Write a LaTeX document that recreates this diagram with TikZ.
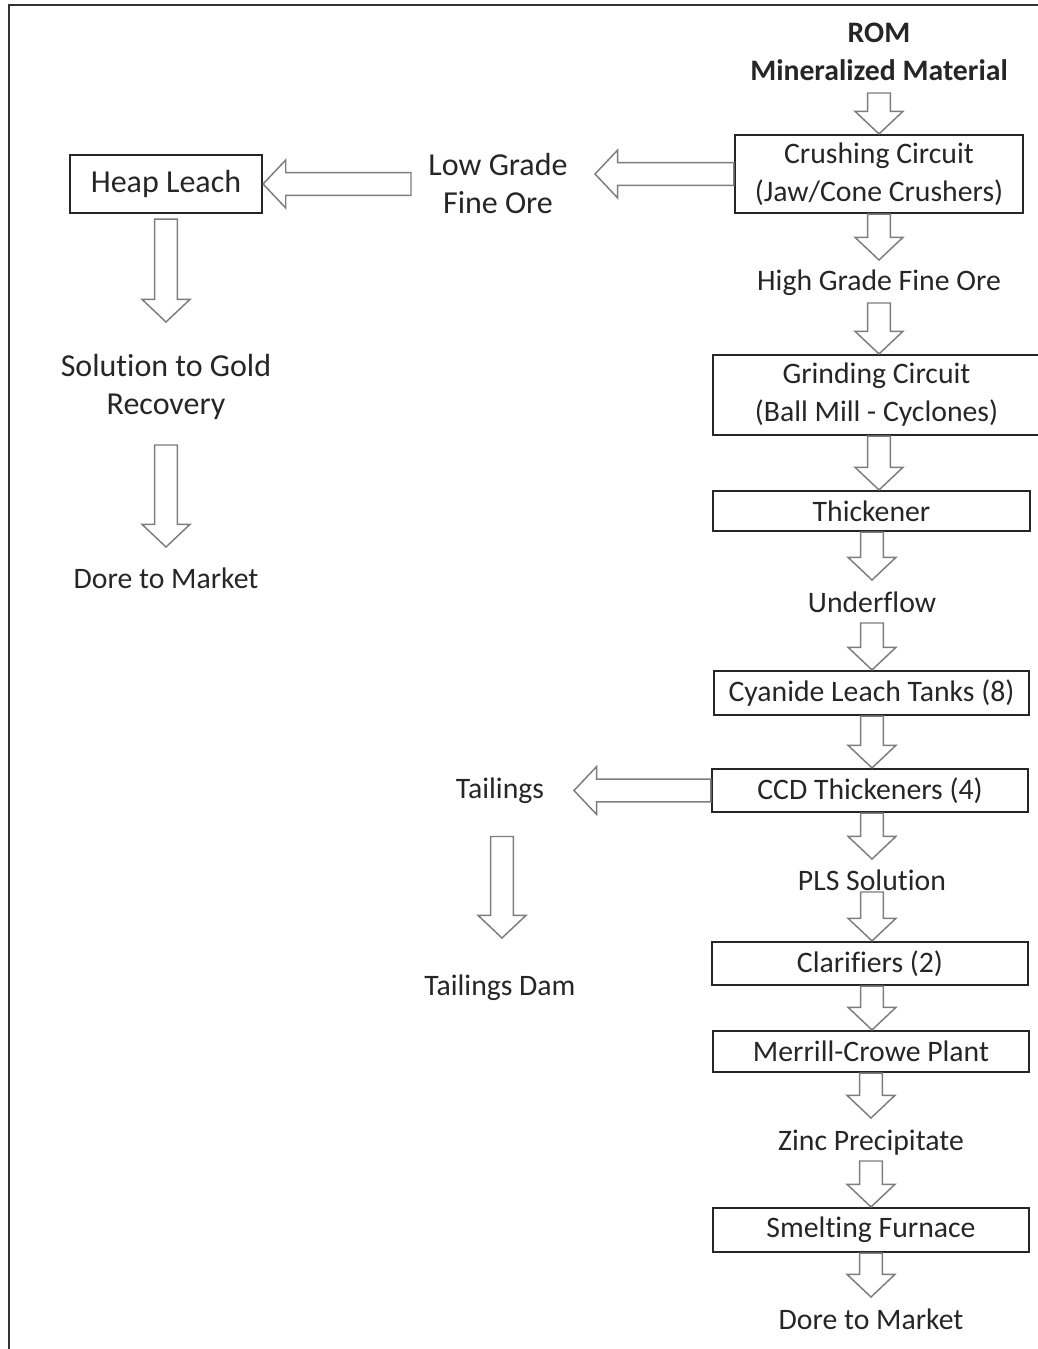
\documentclass[tikz,border=0pt]{standalone}
\usepackage{fontspec}
\setmainfont{Carlito}[Ligatures=NoCommon]
\usetikzlibrary{calc}

\definecolor{inkgray}{RGB}{38,38,38}
\definecolor{arrowgray}{RGB}{125,125,125}

\tikzset{every picture/.style={line width=0.75pt}}
\tikzset{
  flowtext/.style={text=inkgray, font=\fontsize{22.3pt}{28.5pt}\selectfont, align=center, inner sep=0pt},
  bigtext/.style={flowtext, font=\fontsize{24pt}{28.5pt}\selectfont},
  romtext/.style={flowtext, font=\fontsize{22.3pt}{28.5pt}\selectfont\bfseries},
  stagebox/.style={flowtext, draw=black!85, line width=1.6pt, rectangle},
  blockarrow/.style={draw=arrowgray, fill=white, line width=1.1pt, line join=miter},
}

% hollow block arrow from #1 to #2
\newcommand{\flowarrow}[2]{%
  \path (#1) coordinate (fa-s) (#2) coordinate (fa-t);
  \path ($(fa-t)!17pt!(fa-s)$) coordinate (fa-b);
  \draw[blockarrow] ($(fa-s)!8.6pt!90:(fa-t)$) -- ($(fa-b)!8.6pt!-90:(fa-s)$)
    -- ($(fa-b)!18pt!-90:(fa-s)$) -- (fa-t) -- ($(fa-b)!18pt!90:(fa-s)$)
    -- ($(fa-b)!8.6pt!90:(fa-s)$) -- ($(fa-s)!8.6pt!-90:(fa-t)$) -- cycle;
}

\begin{document}
\begin{tikzpicture}[x=0.75pt,y=0.75pt,yscale=-1,xscale=1]
\useasboundingbox (0,0) rectangle (1038,1349);

%Straight Lines (frame)
\draw [line width=1.5pt, black!80] (9,1349) -- (9,5) -- (1038,5) ;

% Text Node
\node [romtext] (rom) at (879,52) {ROM\\Mineralized Material};
%Shape: Rectangle
\node [stagebox, minimum width=216pt, minimum height=58.5pt] (crush) at (879,174) {Crushing Circuit\\(Jaw/Cone Crushers)};
% Text Node
\node [flowtext] (hgfo) at (879,283) {High Grade Fine Ore};
%Shape: Rectangle
\node [stagebox, minimum width=245.25pt, minimum height=60pt] (grind) at (876.5,395) {Grinding Circuit\\(Ball Mill - Cyclones)};
%Shape: Rectangle
\node [stagebox, minimum width=237.75pt, minimum height=30pt] (thick) at (871.5,511) {Thickener};
% Text Node
\node [flowtext] (under) at (872,602) {Underflow};
%Shape: Rectangle
\node [stagebox, minimum width=236.25pt, minimum height=33pt] (cyan) at (871.5,693) {Cyanide Leach Tanks (8)};
%Shape: Rectangle
\node [stagebox, minimum width=237pt, minimum height=32.25pt] (ccd) at (870,790.5) {CCD Thickeners (4)};
% Text Node
\node [flowtext] (pls) at (872,880) {PLS Solution};
%Shape: Rectangle
\node [stagebox, minimum width=237pt, minimum height=32.25pt] (clar) at (870,963.5) {Clarifiers (2)};
%Shape: Rectangle
\node [stagebox, minimum width=237pt, minimum height=30.75pt] (merr) at (871,1051.5) {Merrill-Crowe Plant};
% Text Node
\node [flowtext] (zinc) at (871,1143) {Zinc Precipitate};
%Shape: Rectangle
\node [stagebox, minimum width=237pt, minimum height=33pt] (smelt) at (871,1230) {Smelting Furnace};
% Text Node
\node [flowtext] (dore2) at (871,1319) {Dore to Market};

% Text Node
\node [bigtext] (lowgrade) at (498,183) {Low Grade\\Fine Ore};
%Shape: Rectangle
\node [stagebox, bigtext, minimum width=144pt, minimum height=43.5pt] (heap) at (166,184) {Heap Leach};
% Text Node
\node [bigtext] (sol) at (166,387) {Solution to Gold\\Recovery};
% Text Node
\node [flowtext] (dore1) at (166,578) {Dore to Market};
% Text Node
\node [flowtext] (tail) at (500,790.5) {Tailings};
% Text Node
\node [flowtext] (taildam) at (500,988) {Tailings Dam};

%Block Arrows (main line)
\flowarrow{$(rom)+(0,41)$}{crush.north}
\flowarrow{crush.south}{$(hgfo)+(0,-23)$}
\flowarrow{$(hgfo)+(0,20)$}{grind.north -| hgfo}
\flowarrow{grind.south -| hgfo}{thick.north -| hgfo}
\flowarrow{thick.south -| under}{$(under)+(0,-22)$}
\flowarrow{$(under)+(0,21)$}{cyan.north -| under}
\flowarrow{cyan.south -| under}{ccd.north -| under}
\flowarrow{ccd.south -| pls}{$(pls)+(0,-21)$}
\flowarrow{$(pls)+(0,12)$}{clar.north -| pls}
\flowarrow{clar.south -| pls}{merr.north -| pls}
\flowarrow{merr.south -| zinc}{$(zinc)+(0,-25)$}
\flowarrow{$(zinc)+(0,18)$}{smelt.north -| zinc}
\flowarrow{smelt.south -| zinc}{$(dore2)+(0,-22)$}

%Block Arrows (side branches)
\flowarrow{crush.west}{$(lowgrade |- crush.west)+(97,0)$}
\flowarrow{$(heap.east -| lowgrade)+(-87,0)$}{heap.east}
\flowarrow{$(heap.south)+(0,5)$}{$(sol)+(0,-65)$}
\flowarrow{$(sol)+(0,58)$}{$(dore1)+(0,-31)$}
\flowarrow{ccd.west}{$(tail)+(74,0)$}
\flowarrow{$(tail)+(2,46)$}{$(taildam)+(2,-50)$}

\end{tikzpicture}
\end{document}
